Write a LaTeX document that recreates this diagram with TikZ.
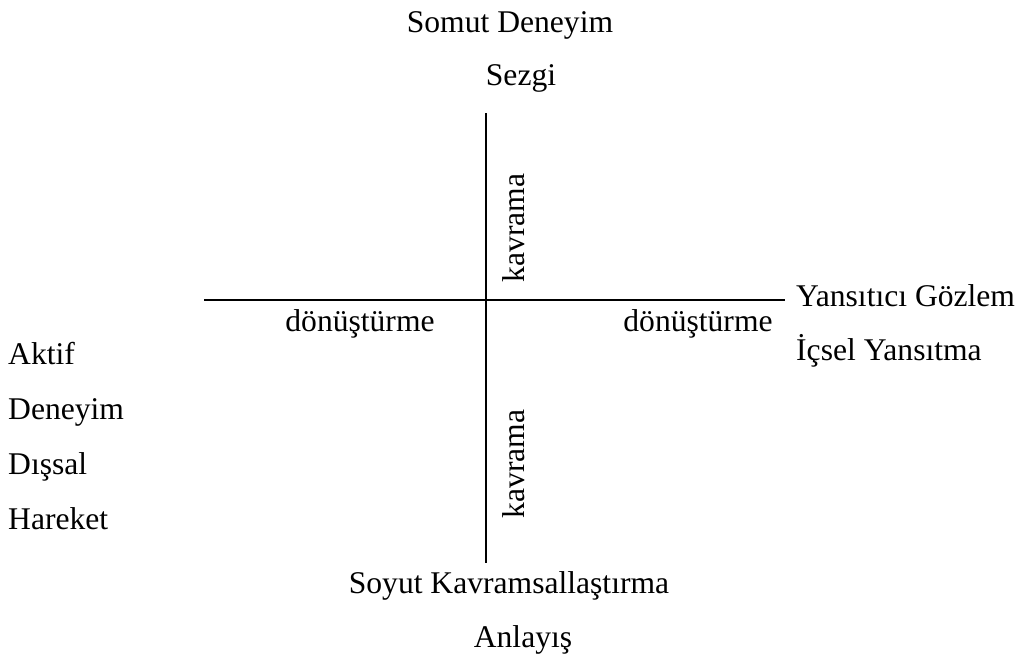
\documentclass[tikz,border=0pt]{standalone}
\usepackage{fontspec}
\setmainfont{Liberation Serif}
\begin{document}
\begin{tikzpicture}[x=1pt,y=-1pt,
  lbl/.style={font=\fontsize{31.6}{36}\selectfont, inner sep=0pt, anchor=base},
  lbll/.style={lbl, anchor=base west},
  axis/.style={line width=1.8pt}]
\useasboundingbox (0,0) rectangle (1023,656);
% axes
\coordinate (vt) at (486,113);
\coordinate (vb) at (486,563);
\coordinate (hl) at (204,300);
\coordinate (hr) at (785,300);
\draw[axis] (vt) -- (vb);
\draw[axis] (hl) -- (hr);
% top
\node[lbl] (somut) at (510,32) {Somut Deneyim};
\node[lbl] (sezgi) at (521,85) {Sezgi};
% bottom
\node[lbl] (soyut) at (509,593) {Soyut Kavramsallaştırma};
\node[lbl] (anlayis) at (523,647) {Anlayış};
% right
\node[lbll] (yans) at (796,306) {Yansıtıcı Gözlem};
\node[lbll] (icsel) at (796,360) {İçsel Yansıtma};
% left
\node[lbll] (aktif) at (8,364) {Aktif};
\node[lbll] (deneyim) at (8,419) {Deneyim};
\node[lbll] (dissal) at (8,474) {Dışsal};
\node[lbll] (hareket) at (8,529) {Hareket};
% axis labels
\node[lbl] (donl) at (360,331) {dönüştürme};
\node[lbl] (donr) at (698,331) {dönüştürme};
\node[lbl, rotate=90] (kavu) at (524,228) {kavrama};
\node[lbl, rotate=90] (kavd) at (524,464) {kavrama};
\end{tikzpicture}
\end{document}
